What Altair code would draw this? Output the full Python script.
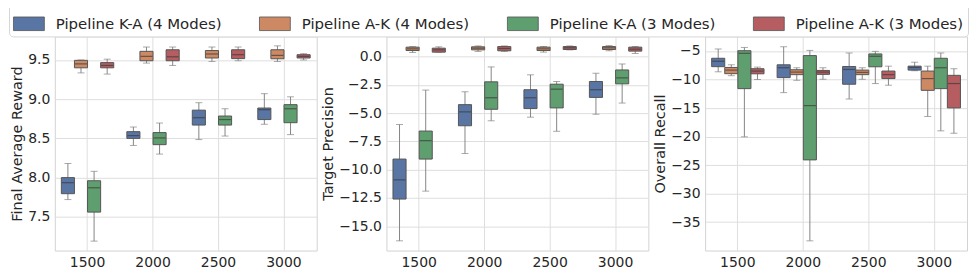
import altair as alt
import pandas as pd

categories = ["1500", "2000", "2500", "3000"]
series = ["Pipeline K-A (4 Modes)", "Pipeline A-K (4 Modes)",
          "Pipeline K-A (3 Modes)", "Pipeline A-K (3 Modes)"]
colors = ["#5975a4", "#cc8963", "#5f9e6e", "#b55d60"]

# Final Average Reward: rows = series, cols = categories
reward_hi = [[8.18, 8.645, 8.955, 9.07], [9.50, 9.665, 9.665, 9.68],
             [8.08, 8.696, 8.878, 9.03], [9.51, 9.665, 9.665, 9.58]]
reward_q3 = [[8.00, 8.586, 8.86, 8.887], [9.495, 9.61, 9.62, 9.63],
             [7.96, 8.574, 8.785, 8.93], [9.466, 9.63, 9.63, 9.567]]
reward_med = [[7.935, 8.535, 8.764, 8.866], [9.45, 9.546, 9.576, 9.558],
              [7.87, 8.506, 8.74, 8.878], [9.43, 9.54, 9.567, 9.546]]
reward_q1 = [[7.795, 8.50, 8.67, 8.74], [9.40, 9.49, 9.525, 9.515],
             [7.56, 8.42, 8.67, 8.70], [9.40, 9.49, 9.517, 9.525]]
reward_lo = [[7.72, 8.41, 8.485, 8.68], [9.335, 9.46, 9.48, 9.48],
             [7.19, 8.30, 8.53, 8.548], [9.32, 9.43, 9.49, 9.50]]

# Target Precision
prec_hi = [[-6.0, -3.1, -1.6, -1.46], [0.90, 0.96, 0.91, 0.99],
           [-2.95, -0.9, -2.19, -0.64], [0.88, 0.96, 0.96, 0.91]]
prec_q3 = [[-9.06, -4.24, -2.92, -2.19], [0.85, 0.88, 0.85, 0.90],
           [-6.58, -2.22, -2.43, -1.17], [0.76, 0.90, 0.90, 0.85]]
prec_med = [[-10.9, -4.88, -3.63, -2.92], [0.70, 0.76, 0.70, 0.79],
            [-7.43, -3.63, -2.87, -1.87], [0.61, 0.73, 0.79, 0.67]]
prec_q1 = [[-12.6, -6.11, -4.59, -3.6], [0.55, 0.61, 0.55, 0.64],
           [-9.06, -4.65, -4.53, -2.4], [0.41, 0.53, 0.64, 0.50]]
prec_lo = [[-16.3, -8.57, -5.35, -5.09], [0.38, 0.47, 0.41, 0.53],
           [-11.9, -5.67, -6.6, -4.1], [0.41, 0.47, 0.61, 0.29]]

# Overall Recall
recall_hi = [[-4.65, -4.26, -5.35, -6.97], [-7.42, -7.94, -7.94, -7.66],
             [-4.38, -4.9, -5.07, -5.35], [-7.83, -7.94, -7.66, -8.11]]
recall_q3 = [[-6.28, -7.42, -7.72, -7.66], [-7.89, -8.29, -8.35, -8.52],
             [-4.95, -5.81, -5.52, -6.28], [-8.11, -8.41, -8.52, -9.27]]
recall_med = [[-6.8, -7.94, -8.24, -7.89], [-8.35, -8.7, -8.75, -9.84],
              [-5.41, -14.57, -5.93, -7.94], [-8.52, -8.7, -9.15, -10.71]]
recall_q1 = [[-7.75, -9.67, -10.83, -8.35], [-8.98, -9.15, -9.15, -11.9],
             [-11.6, -24.09, -7.77, -11.6], [-9.0, -9.1, -9.84, -14.98]]
recall_lo = [[-8.65, -12.3, -13.42, -8.46], [-9.33, -10.14, -9.96, -16.48],
             [-20.05, -38.28, -10.71, -19.0], [-10.0, -9.96, -11.0, -19.42]]

metrics = {
    "reward": (reward_lo, reward_q1, reward_med, reward_q3, reward_hi),
    "prec": (prec_lo, prec_q1, prec_med, prec_q3, prec_hi),
    "recall": (recall_lo, recall_q1, recall_med, recall_q3, recall_hi),
}

rows = []
for m, (lo, q1, med, q3, hi) in metrics.items():
    for si, s in enumerate(series):
        for ci, c in enumerate(categories):
            rows.append(dict(metric=m, series=s, cat=c, lo=lo[si][ci], q1=q1[si][ci],
                             med=med[si][ci], q3=q3[si][ci], hi=hi[si][ci]))
df = pd.DataFrame(rows)

TXT = "#262626"
GRID = "#dedede"
EDGE = "#555555"
WHISK = "#858585"
MED = "#3a3a3a"
W, H = 263, 215


def panel(metric, title, domain, ticks, fmt):
    d = df[df.metric == metric]
    yax = alt.Axis(title=title, values=ticks, format=fmt)
    ysc = alt.Scale(domain=domain, nice=False, zero=False)
    base = alt.Chart(d).encode(
        x=alt.X("cat:N", sort=categories, title=None,
                scale=alt.Scale(paddingInner=0, paddingOuter=0),
                axis=alt.Axis(labelAngle=0, bandPosition=0.5)),
        xOffset=alt.XOffset("series:N", sort=series,
                            scale=alt.Scale(domain=series, paddingInner=0, paddingOuter=0.5)),
    )
    whisk = base.mark_rule(color=WHISK, strokeWidth=1).encode(
        y=alt.Y("lo:Q", scale=ysc, axis=yax), y2="hi:Q")
    cap_lo = base.mark_tick(color=WHISK, size=7, thickness=1).encode(
        y=alt.Y("lo:Q", scale=ysc, axis=yax))
    cap_hi = base.mark_tick(color=WHISK, size=7, thickness=1).encode(
        y=alt.Y("hi:Q", scale=ysc, axis=yax))
    box = base.mark_bar(stroke=EDGE, strokeWidth=1, opacity=1).encode(
        y=alt.Y("q1:Q", scale=ysc, axis=yax), y2="q3:Q",
        color=alt.Color("series:N", sort=series,
                        scale=alt.Scale(domain=series, range=colors),
                        legend=alt.Legend(title=None)))
    med = base.mark_tick(color=MED, size=12, thickness=1.2).encode(
        y=alt.Y("med:Q", scale=ysc, axis=yax))
    return alt.layer(whisk, cap_lo, cap_hi, box, med).properties(width=W, height=H)


p1 = panel("reward", "Final Average Reward", [7.07, 9.80], [7.5, 8.0, 8.5, 9.0, 9.5], ".1f")
p2 = panel("prec", "Target Precision", [-17.16, 1.80], [-15, -12.5, -10, -7.5, -5, -2.5, 0], ".1f")
p3 = panel("recall", "Overall Recall", [-39.98, -2.45], [-35, -30, -25, -20, -15, -10, -5], "d")

chart = alt.hconcat(p1, p2, p3, spacing=2).resolve_scale(
    y="independent", color="shared"
).configure(
    font="DejaVu Sans", padding={"top": -6, "left": 0, "right": 0, "bottom": 0}
).configure_view(
    stroke="#d3d3d3", strokeWidth=1
).configure_axis(
    domain=False, ticks=False, grid=True, gridColor=GRID, gridWidth=1,
    labelFont="DejaVu Sans", labelFontSize=14, labelColor=TXT, labelPadding=5,
    titleFont="DejaVu Sans", titleFontSize=14.5, titleColor=TXT,
    titleFontWeight="normal", titlePadding=3,
).configure_legend(
    orient="none", legendX=-46, legendY=-33, direction="horizontal",
    labelFont="DejaVu Sans", labelFontSize=15, labelColor=TXT, labelOffset=11,
    symbolType="M-1,-0.44H1V0.44H-1Z", symbolSize=961, symbolOpacity=1,
    symbolStrokeColor=EDGE, symbolStrokeWidth=0.8,
    columnPadding=35, padding=4, strokeColor="#d6d6d6", cornerRadius=4,
    fillColor="white", labelLimit=400,
)

chart.save("out.html", embed_options={"renderer": "svg", "actions": False})
